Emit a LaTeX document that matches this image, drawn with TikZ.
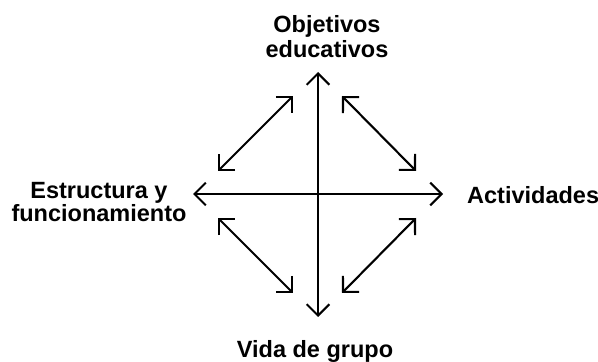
\documentclass[tikz,border=0pt]{standalone}
\usepackage{fontspec}
\setmainfont{Liberation Sans}
\usetikzlibrary{arrows.meta}
\begin{document}
\begin{tikzpicture}[x=1pt,y=1pt,
  arr/.style={line width=2.1pt,{Straight Barb[angle=90:16pt]}-{Straight Barb[angle=90:16pt]}},
  lbl/.style={inner sep=0pt,font=\fontsize{23.5pt}{25pt}\selectfont\bfseries,align=center}]
\useasboundingbox (0,0) rectangle (598,362);
% labels
\node[lbl,anchor=north] (obj) at (327,347) {Objetivos\\educativos};
\node[lbl,anchor=north,font=\fontsize{23.5pt}{23pt}\selectfont\bfseries] (est) at (99,180) {Estructura y\\funcionamiento};
\node[lbl,anchor=base west] (act) at (467,158) {Actividades};
\node[lbl,anchor=base] (vida) at (315,5) {Vida de grupo};
% arrow ends
\coordinate (vt) at (318,290);
\coordinate (vb) at (318,45);
\coordinate (hl) at (193,168);
\coordinate (hr) at (443,168);
\coordinate (tla) at (218,191);
\coordinate (tlb) at (293,266);
\coordinate (tra) at (342,266);
\coordinate (trb) at (416,191);
\coordinate (bla) at (218,144);
\coordinate (blb) at (293,69);
\coordinate (bra) at (342,69);
\coordinate (brb) at (416,144);
% arrows
\draw[arr] (vb) -- (vt);
\draw[arr] (hl) -- (hr);
\draw[arr] (tla) -- (tlb);
\draw[arr] (tra) -- (trb);
\draw[arr] (bla) -- (blb);
\draw[arr] (bra) -- (brb);
\end{tikzpicture}
\end{document}
